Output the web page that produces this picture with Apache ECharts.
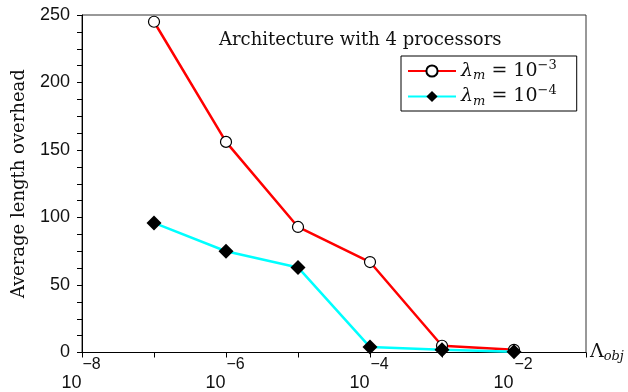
<!DOCTYPE html>
<html><head><meta charset="utf-8">
<script src="https://cdn.jsdelivr.net/npm/echarts@6/dist/echarts.min.js"></script>
<style>html,body{margin:0;padding:0;background:#fff}#c{width:628px;height:392px}</style>
</head><body><div id="c"></div>
<script>
// x values are log10(Lambda_obj)
const xExponents = [-7, -6, -5, -4, -3, -2];
const series1e3 = [245, 156, 93, 67, 5, 2];
const series1e4 = [96, 75, 63, 4, 2, 0.5];
const xTickExponents = [-8, -6, -4, -2];
const yTicks = [0, 50, 100, 150, 200, 250];

const chart = echarts.init(document.getElementById('c'));
const serif = '"DejaVu Serif", serif';
const sans = '"Liberation Sans", Arial, sans-serif';
const pair = (ys) => xExponents.map((x, i) => [x, ys[i]]);

chart.setOption({
  animation: false,
  backgroundColor: '#fff',
  title: {
    text: 'Architecture with 4 processors',
    left: 214, top: 26,
    textStyle: {fontFamily: serif, fontWeight: 'normal', fontSize: 18, color: '#111'}
  },
  legend: {
    orient: 'vertical',
    left: 401, top: 56,
    padding: [3, 20, 3, 6],
    itemGap: 2,
    itemWidth: 48, itemHeight: 14,
    borderColor: '#000', borderWidth: 1,
    backgroundColor: '#fff',
    data: ['a', 'b'],
    formatter: (n) => n === 'a'
      ? '{l|λ}{s|m}{t| = 10}{p|−3}'
      : '{l|λ}{s|m}{t| = 10}{p|−4}',
    textStyle: {
      rich: {
        l: {fontFamily: serif, fontStyle: 'italic', fontSize: 19, color: '#111'},
        s: {fontFamily: serif, fontStyle: 'italic', fontSize: 13, color: '#111', padding: [10, 0, 0, 0]},
        t: {fontFamily: serif, fontSize: 19, color: '#111'},
        p: {fontFamily: serif, fontSize: 13, color: '#111', padding: [0, 0, 11, 0]}
      }
    }
  },
  grid: {left: 82, right: 42, top: 15, bottom: 38, show: true, borderColor: '#333', borderWidth: 1},
  xAxis: {
    type: 'value', min: -8, max: -1, interval: 1,
    name: '{L|Λ}{o|obj}', nameLocation: 'end', nameGap: 4,
    nameTextStyle: {
      rich: {
        L: {fontFamily: serif, fontSize: 19, color: '#111'},
        o: {fontFamily: serif, fontStyle: 'italic', fontSize: 13, color: '#111', padding: [8, 0, 0, 0]}
      }
    },
    axisLine: {lineStyle: {color: '#000', width: 1}},
    axisTick: {show: true, inside: false, length: 5, lineStyle: {color: '#000'}},
    splitLine: {show: false},
    axisLabel: {
      margin: 4,
      formatter: (v) => xTickExponents.includes(v) ? '{e|−' + Math.abs(v) + '}\n{b|10}' : '',
      rich: {
        e: {fontFamily: sans, fontSize: 16, color: '#111', padding: [0, 0, 0, 19], lineHeight: 17},
        b: {fontFamily: sans, fontSize: 18, color: '#111', padding: [0, 21, 0, 0], lineHeight: 19}
      }
    }
  },
  yAxis: {
    type: 'value', min: 0, max: 250, interval: 50,
    name: 'Average length overhead', nameLocation: 'middle', nameGap: 54,
    nameTextStyle: {fontFamily: serif, fontSize: 18, color: '#111'},
    axisLine: {show: true, lineStyle: {color: '#000', width: 1}},
    axisTick: {show: true, inside: false, length: 5, lineStyle: {color: '#000'}},
    minorTick: {show: true, splitNumber: 4, length: 5, lineStyle: {color: '#000'}},
    splitLine: {show: false},
    axisLabel: {margin: 12, fontFamily: sans, fontSize: 18, color: '#111',
      formatter: (v) => yTicks.includes(v) ? String(v) : ''}
  },
  series: [
    {
      name: 'a', type: 'line', data: pair(series1e3),
      symbol: 'circle', symbolSize: 11,
      lineStyle: {color: '#ff0000', width: 2.5},
      itemStyle: {color: '#fff', borderColor: '#000', borderWidth: 1.2}
    },
    {
      name: 'b', type: 'line', data: pair(series1e4),
      symbol: 'diamond', symbolSize: 15,
      lineStyle: {color: '#00ffff', width: 2.5},
      itemStyle: {color: '#000', borderColor: '#000', borderWidth: 0}
    }
  ]
});
</script></body></html>
